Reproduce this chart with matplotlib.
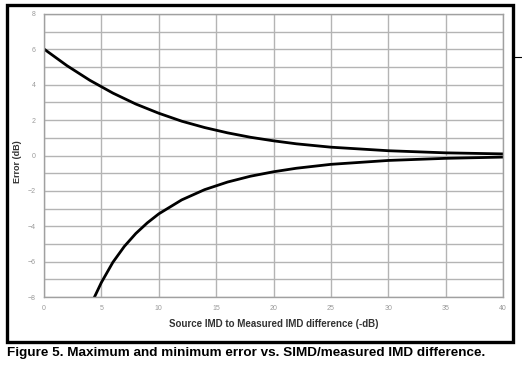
import numpy as np
import matplotlib
matplotlib.use("Agg")
from matplotlib import pyplot as plt
from matplotlib.patches import Rectangle
from matplotlib.lines import Line2D

plt.rcParams['font.family'] = ['Liberation Sans', 'DejaVu Sans']

# upper curve: maximum error (dB) vs SIMD/measured IMD difference (-dB)
max_x = [0, 2, 4, 6, 8, 10, 12, 14, 16, 18, 20, 22, 25, 30, 35, 40]
max_err = [6.02, 5.08, 4.25, 3.53, 2.91, 2.39, 1.94, 1.58, 1.28, 1.03,
           0.83, 0.66, 0.47, 0.27, 0.15, 0.09]

# lower curve: minimum error (dB)
min_x = [4.4, 5, 6, 7, 8, 9, 10, 12, 14, 16, 18, 20, 22, 25, 30, 35, 40]
min_err = [-8.0, -7.18, -6.04, -5.14, -4.41, -3.81, -3.30, -2.51, -1.93,
           -1.50, -1.17, -0.92, -0.72, -0.50, -0.28, -0.16, -0.09]

x_ticks = [0, 5, 10, 15, 20, 25, 30, 35, 40]
y_ticks = [-8, -6, -4, -2, 0, 2, 4, 6, 8]

fig = plt.figure(figsize=(5.22, 3.71), dpi=100)
ax = fig.add_axes([44/522, 1 - 297/371, 459/522, 283/371])

ax.plot(max_x, max_err, color='black', lw=2.0)
ax.plot(min_x, min_err, color='black', lw=2.0)

ax.set_xlim(0, 40)
ax.set_ylim(-8, 8)
ax.set_xticks(x_ticks)
ax.set_yticks(y_ticks)
ax.set_yticks(np.arange(-8, 9, 1), minor=True)
ax.grid(True, which='both', color='#b4b4b4', lw=1.0)
ax.set_axisbelow(True)
ax.tick_params(which='both', length=0, labelsize=5, labelcolor='#9a9a9a', pad=6)
for s in ax.spines.values():
    s.set_color('#a0a0a0')
    s.set_linewidth(1.0)

ax.set_xlabel('Source IMD to Measured IMD difference (-dB)', fontsize=7,
              fontweight='bold', color='#333333', labelpad=5)
ax.set_ylabel('Error (dB)', fontsize=6.5, fontweight='bold', color='#333333', labelpad=3)
ax.yaxis.set_label_coords(-22/459, 0.48)

# outer frame
fig.patches.append(Rectangle((7/522, 1 - 342/371), 506/522, 337/371, transform=fig.transFigure,
                             fill=False, edgecolor='black', lw=2.4))
fig.lines.append(Line2D([513/522, 1.0], [1 - 57/371, 1 - 57/371], transform=fig.transFigure,
                        color='black', lw=0.8))

fig.text(7/522, 1 - 353/371, 'Figure 5. Maximum and minimum error vs. SIMD/measured IMD difference.',
         fontsize=9.7, fontweight='bold', va='center', ha='left')

fig.savefig('out.png', dpi=100)
